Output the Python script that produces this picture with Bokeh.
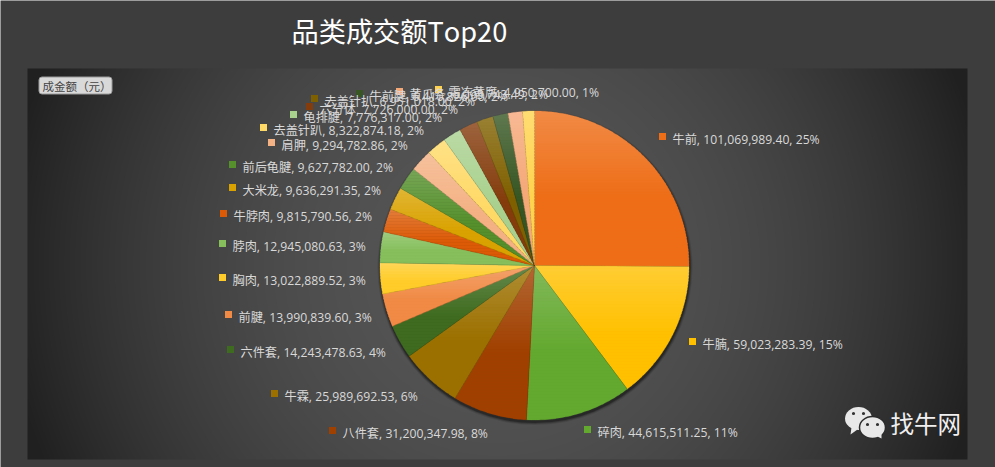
import numpy as np
from bokeh.plotting import figure
from bokeh.embed import file_html
from bokeh.resources import INLINE
from bokeh.core.properties import value

title = "品类成交额Top20"
field_button = "成金额（元）"
watermark = "找牛网"
categories = ["牛前", "牛腩", "碎肉", "八件套", "牛霖", "六件套", "前腱", "胸肉", "脖肉", "牛脖肉",
              "大米龙", "前后龟腱", "肩胛", "去盖针趴", "龟排腱", "六分体", "去盖针扒", "牛前腱", "黄瓜条", "霜冻黄腐"]
amounts = [101069989.40, 59023283.39, 44615511.25, 31200347.98, 25989692.53, 14243478.63, 13990839.60,
           13022889.52, 12945080.63, 9815790.56, 9636291.35, 9627782.00, 9294782.86, 8322874.18,
           7776317.00, 7726000.00, 6951018.00, 6410826.00, 6095743.49, 4950700.00]
amount_labels = ["101,069,989.40", "59,023,283.39", "44,615,511.25", "31,200,347.98", "25,989,692.53",
                 "14,243,478.63", "13,990,839.60", "13,022,889.52", "12,945,080.63", "9,815,790.56",
                 "9,636,291.35", "9,627,782.00", "9,294,782.86", "8,322,874.18", "7,776,317.00",
                 "7,726,000.00", "6,951,018.00", "6,410,826.00", "6,095,743.49", "4,950,700.00"]
percents = [25, 15, 11, 8, 6, 4, 3, 3, 3, 2, 2, 2, 2, 2, 2, 2, 2, 2, 2, 1]
colors = ["#EE6D17", "#FFC000", "#63A82F", "#A04000", "#9C7000", "#3E6B1F", "#F08A45", "#FFCC2A", "#86BF5C",
          "#DC5A06", "#D9A200", "#55902C", "#F4B183", "#FFD966", "#A9D18E", "#843C0C", "#7F6000", "#375623",
          "#F5A878", "#FFD34F"]
# label layout: key-square centre in page pixels
label_x = [662, 692, 587, 332, 274, 230, 228, 222, 222, 223, 232, 232, 271, 263, 293, 309, 314, 359, 399, 438]
label_y = [136, 341, 429, 430, 393, 349, 314, 277, 243, 213, 187, 164, 142, 127, 114, 106, 98, 93, 91, 89]

W, H = 995, 467
CX, CY, R = 534, 265, 154.5
FONT = "Open Sans, Noto Sans CJK SC"
CJK = "Noto Sans CJK SC"


def yy(v):
    return H - v


p = figure(width=W, height=H, x_range=(0, W), y_range=(0, H), toolbar_location=None,
           output_backend="svg", min_border=0, outline_line_color=None, background_fill_color="#3d3d3d",
           border_fill_color="#3d3d3d")
p.axis.visible = False
p.grid.visible = False

# panel with radial shading
px, py = 27, 68
pw, ph = 940, 391
gx, gy = np.meshgrid(np.arange(pw), np.arange(ph))
d = np.sqrt(((gx - pw * 0.5) / (pw * 0.5)) ** 2 + ((gy - ph * 0.5) / (pw * 0.5)) ** 2)
d = np.clip(d / 1.06, 0, 1)
shade = 0x56 + (0x20 - 0x56) * d ** 2.0
img = np.zeros((ph, pw), dtype=np.uint32)
v8 = shade.astype(np.uint32)
img[:, :] = (255 << 24) | (v8 << 16) | (v8 << 8) | v8
p.image_rgba(image=[img[::-1]], x=px, y=yy(py + ph), dw=pw, dh=ph)

# pie shadow
for grow, a in [(3.0, 0.10), (2.0, 0.18), (1.0, 0.3)]:
    p.circle(x=CX + 0.5, y=yy(CY + 2), radius=R + grow, fill_color="#000000", fill_alpha=a, line_color=None)


def mix(c, other, t):
    a = np.array([int(c[i:i + 2], 16) for i in (1, 3, 5)], float)
    return "#%02x%02x%02x" % tuple(int(round(x)) for x in a + (np.array(other, float) - a) * t)


def clip_band(pts, lo, hi):
    def clip(poly, keep, cross):
        out = []
        for i in range(len(poly)):
            a, b = poly[i], poly[(i + 1) % len(poly)]
            if keep(a):
                out.append(a)
            if keep(a) != keep(b):
                t = (cross - a[1]) / (b[1] - a[1])
                out.append((a[0] + (b[0] - a[0]) * t, cross))
        return out
    poly = clip(pts, lambda q: q[1] >= lo, lo)
    if poly:
        poly = clip(poly, lambda q: q[1] <= hi, hi)
    return poly


total = sum(amounts)
start = 0.0
bx, by, bc = [], [], []
for amt, col in zip(amounts, colors):
    sweep = amt / total * 2 * np.pi
    n = max(4, int(sweep * R / 2))
    th = np.linspace(start, start + sweep, n)
    pts = [(float(CX), float(CY))] + [(CX + R * np.sin(t), CY - R * np.cos(t)) for t in th]
    ys = [q[1] for q in pts]
    y0, y1 = min(ys), max(ys)
    top = mix(col, (255, 255, 255), 0.2)
    step = 3.0
    yc = y0
    while yc < y1:
        poly = clip_band(pts, yc, min(yc + step + 0.6, y1))
        if len(poly) >= 3:
            f = min(1.0, ((yc - y0) / max(y1 - y0, 1)) / 0.55)
            a = [int(col[i:i + 2], 16) for i in (1, 3, 5)]
            bx.append([q[0] for q in poly])
            by.append([yy(q[1]) for q in poly])
            bc.append(mix(top, a, f))
        yc += step
    start += sweep
p.patches(xs=bx, ys=by, fill_color=bc, line_color=bc, line_width=0.3)

# slice edges
start = 0.0
ex, ey = [], []
for amt in amounts:
    ex.append([CX, CX + R * np.sin(start)])
    ey.append([yy(CY), yy(CY - R * np.cos(start))])
    start += amt / total * 2 * np.pi
p.multi_line(xs=ex, ys=ey, line_color="#000000", line_alpha=0.15, line_width=0.6)

# labels
lx = np.array(label_x, float)
ly = np.array(label_y, float)
p.rect(x=lx, y=yy(ly), width=7, height=7, fill_color=colors, line_color=None)
texts = [f"{c}, {a}, {q}%" for c, a, q in zip(categories, amount_labels, percents)]
p.text(x=lx + 10, y=yy(ly + 3), text=texts, text_font=value(FONT), text_font_size="12.2px",
       text_color="#d9d9d9", text_baseline="middle", text_align="left")

# title
p.text(x=[291], y=[yy(29)], text=[title], text_font=value(CJK), text_font_size="27.2px",
       text_color="#ffffff", text_baseline="middle", text_align="left")

# field button
p.quad(left=38.5, right=111.5, top=yy(76.5), bottom=yy(93.5), fill_color="#d9d9d9", line_color="#9a9a9a",
       border_radius=3)
p.text(x=[42], y=[yy(85)], text=[field_button], text_font=value(CJK), text_font_size="11.5px",
       text_color="#444444", text_baseline="middle", text_align="left")

# wechat mark
p.ellipse(x=[858], y=[yy(418)], width=27, height=23, fill_color="#e8e8e8", line_color=None)
p.patch(x=[851, 850, 857], y=[yy(427), yy(434), yy(429)], fill_color="#e8e8e8", line_color=None)
p.ellipse(x=[872], y=[yy(427)], width=26, height=22, fill_color="#e8e8e8", line_color="#2c2c2c", line_width=1.5)
p.patch(x=[877, 881, 881], y=[yy(436), yy(438), yy(433)], fill_color="#e8e8e8", line_color=None)
p.circle(x=[853, 863, 867, 877], y=[yy(413), yy(413), yy(424), yy(424)], radius=1.6,
         fill_color="#333333", line_color=None)
p.text(x=[890], y=[yy(422)], text=[watermark], text_font=value(CJK), text_font_size="23.5px",
       text_color="#f0f0f0", text_baseline="middle", text_align="left")

open("out.html", "w").write(file_html(p, INLINE))
